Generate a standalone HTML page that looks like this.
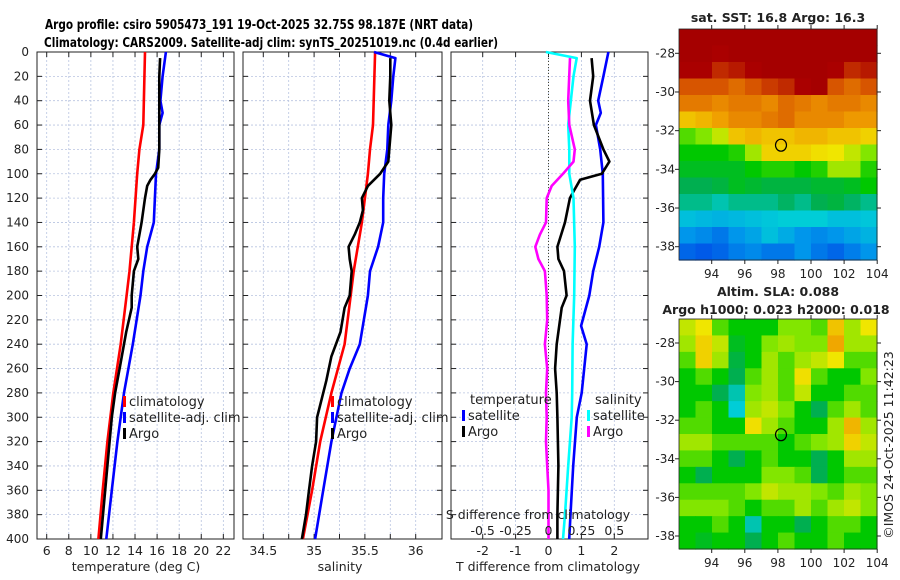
<!DOCTYPE html>
<html><head><meta charset="utf-8"><style>
body{margin:0;background:#fff}
svg{display:block;font-family:"DejaVu Sans","Liberation Sans",sans-serif}
</style></head><body>
<svg id="fig" width="900" height="580" viewBox="0 0 900 580" xmlns="http://www.w3.org/2000/svg">
<rect width="900" height="580" fill="#fff"/>
<text x="45" y="29" font-size="13.5" font-weight="bold" textLength="428" lengthAdjust="spacingAndGlyphs">Argo profile: csiro 5905473_191 19-Oct-2025 32.75S 98.187E (NRT data)</text>
<text x="44" y="47" font-size="13.5" font-weight="bold" textLength="454" lengthAdjust="spacingAndGlyphs">Climatology: CARS2009. Satellite-adj clim: synTS_20251019.nc (0.4d earlier)</text>
<g id="g"></g>
</svg>
<script>
// ---------- data ----------
const depthTicks=[0,20,40,60,80,100,120,140,160,180,200,220,240,260,280,300,320,340,360,380,400];
const tempTicks=[6,8,10,12,14,16,18,20,22];
const salTicks=[34.5,35,35.5,36];
const salGrid=[34.5,34.75,35,35.25,35.5,35.75,36];
const tdiffTicks=[-2,-1,0,1,2];
const sdiffTickLabels=["-0.5","-0.25","0","0.25","0.5"];
const sdiffTicks=[-0.5,-0.25,0,0.25,0.5];

const climTempDepth=[0,60,80,100,140,180,200,240,280,320,360,400];
const climTemp=[14.9,14.75,14.4,14.2,13.9,13.5,13.24,12.7,12.03,11.5,11.07,10.68];
const satTempDepth=[0,20,40,50,60,80,100,120,140,160,180,200,240,280,320,360,400];
const satTemp=[16.8,16.5,16.3,16.5,16.2,16.2,15.9,15.8,15.7,15.1,14.75,14.5,13.8,13.0,12.4,11.9,11.4];
const argoTempDepth=[5,20,40,60,80,95,100,105,110,120,140,150,160,170,180,200,210,230,260,280,300,320,340,360,380,400];
const argoTemp=[16.27,16.2,16.2,16.2,16.2,16.1,15.8,15.4,15.1,14.9,14.6,14.4,14.2,14.3,13.9,13.7,13.7,13.2,12.6,12.2,11.9,11.7,11.5,11.3,11.1,10.9];

const climSalDepth=[0,60,80,100,120,140,160,180,200,240,280,320,360,400];
const climSal=[35.6,35.58,35.55,35.53,35.5,35.47,35.43,35.39,35.36,35.3,35.17,35.06,34.98,34.89];
const satSalDepth=[0,5,20,40,60,80,100,120,140,160,180,200,240,260,280,320,360,400];
const satSal=[35.59,35.8,35.78,35.76,35.73,35.72,35.69,35.68,35.68,35.63,35.55,35.53,35.45,35.35,35.27,35.17,35.09,35.01];
const argoSalDepth=[5,20,40,60,80,90,100,110,120,130,140,150,160,170,180,200,210,230,250,270,300,320,340,360,380,400];
const argoSal=[35.75,35.75,35.74,35.76,35.74,35.73,35.65,35.53,35.47,35.48,35.45,35.4,35.34,35.35,35.37,35.35,35.3,35.26,35.17,35.12,35.03,35.02,34.98,34.95,34.92,34.88];

const satTdDepth=[0,20,40,50,60,80,100,140,160,180,200,225,240,280,300,340,380,400];
const satTd=[1.82,1.67,1.51,1.59,1.44,1.57,1.65,1.67,1.54,1.36,1.24,0.99,1.16,1.01,0.86,0.75,0.67,0.63];
const argoTdDepth=[5,20,40,60,80,90,100,105,115,120,140,160,170,180,200,210,240,260,280,300,340,380,400];
const argoTd=[1.31,1.36,1.26,1.38,1.67,1.85,1.62,0.96,0.75,0.65,0.5,0.27,0.3,0.47,0.55,0.4,0.25,0.2,0.25,0.27,0.3,0.27,0.27];
const satSdDepth=[0,5,20,60,80,100,120,160,200,240,280,300,340,380,400];
const satSd=[-0.02,0.214,0.19,0.15,0.158,0.158,0.19,0.2,0.195,0.183,0.18,0.176,0.15,0.125,0.11];
const argoSdDepth=[5,40,60,80,90,100,110,120,140,150,160,170,180,200,220,240,260,280,300,320,340,360,400];
const argoSd=[0.163,0.15,0.158,0.2,0.19,0.11,0.024,-0.014,-0.019,-0.065,-0.1,-0.077,-0.027,-0.014,-0.01,-0.027,-0.01,-0.019,-0.014,-0.019,-0.01,0,0];

const mapLonTicks=[94,96,98,100,102,104];
const mapLatTicks=[-28,-30,-32,-34,-36,-38];
const argoLon=98.187, argoLat=-32.75;
const sstGrid=[
[1,1,1,1,1,1,1,1,1,1,1,1],
[1,1,.95,1,1,1,1,1,1,1,1,1],
[.95,.95,.9,.92,.95,1,1,1,1,.95,.9,.92],
[.85,.85,.85,.82,.85,.88,.9,.95,1,.85,.82,.85],
[.8,.8,.78,.8,.8,.78,.82,.8,.78,.8,.8,.78],
[.7,.72,.75,.78,.78,.8,.82,.78,.78,.78,.76,.76],
[.55,.58,.62,.7,.72,.7,.7,.72,.72,.7,.7,.68],
[.5,.5,.5,.52,.6,.68,.68,.68,.66,.65,.62,.58],
[.48,.48,.48,.48,.5,.52,.52,.5,.52,.6,.6,.52],
[.45,.45,.46,.48,.47,.46,.46,.46,.47,.47,.48,.5],
[.42,.42,.4,.42,.42,.42,.44,.42,.45,.46,.44,.42],
[.36,.35,.34,.35,.36,.37,.38,.38,.38,.36,.36,.37],
[.3,.28,.25,.3,.32,.36,.33,.3,.28,.3,.32,.34],
[.22,.2,.22,.26,.28,.25,.25,.3,.25,.22,.26,.3]];
const slaGrid=[
[.62,.65,.55,.5,.5,.5,.58,.58,.55,.7,.6,.65],
[.6,.68,.62,.48,.5,.58,.6,.58,.58,.74,.6,.6],
[.55,.68,.6,.46,.5,.6,.55,.6,.62,.65,.55,.55],
[.5,.55,.5,.45,.55,.6,.55,.66,.55,.5,.5,.58],
[.5,.5,.45,.4,.58,.6,.55,.62,.5,.5,.55,.55],
[.5,.55,.5,.38,.6,.62,.58,.5,.45,.55,.6,.55],
[.55,.55,.5,.5,.66,.6,.55,.5,.5,.6,.72,.6],
[.6,.6,.55,.55,.55,.55,.5,.55,.58,.6,.68,.62],
[.55,.55,.5,.45,.5,.55,.5,.5,.45,.5,.6,.6],
[.5,.45,.5,.5,.5,.58,.58,.55,.45,.5,.55,.55],
[.55,.55,.55,.55,.58,.62,.6,.6,.58,.55,.6,.58],
[.58,.58,.58,.55,.5,.55,.55,.6,.55,.6,.62,.58],
[.5,.5,.55,.5,.4,.5,.5,.45,.5,.55,.55,.5],
[.5,.48,.5,.5,.45,.5,.55,.5,.5,.55,.5,.5]];

// ---------- helpers ----------
const NS="http://www.w3.org/2000/svg";
const G=document.getElementById('g');
function mk(tag,attrs,parent){const e=document.createElementNS(NS,tag);for(const k in attrs)e.setAttribute(k,attrs[k]);(parent||G).appendChild(e);return e;}
function txt(x,y,s,size,anchor,parent){const t=mk('text',{x:x,y:y,'font-size':size,'text-anchor':anchor||'middle',fill:'#222'},parent);t.textContent=s;return t;}
const Y0=52,Y1=539;
const yD=d=>Y0+(d/400)*(Y1-Y0);
const xT=t=>46.7+(t-6)*11.04;
const xS=s=>263.3+(s-34.5)*101.6;
const xTd=v=>548.5+v*32.9;
const xSd=v=>548.5+v*131.6;

function panel(name,x0,x1,xs,grid){
  const p=mk('g',{});
  
  
  grid.forEach(v=>mk('line',{x1:xs(v),x2:xs(v),y1:Y0,y2:Y1,stroke:'#b8c4e0','stroke-width':0.8,'stroke-dasharray':'2,2'},p));
  depthTicks.forEach(d=>{
    mk('line',{x1:x0,x2:x1,y1:yD(d),y2:yD(d),stroke:'#b8c4e0','stroke-width':0.8,'stroke-dasharray':'2,2'},p);
    mk('line',{x1:x0,x2:x0+5,y1:yD(d),y2:yD(d),stroke:'#222'},p);
    mk('line',{x1:x1-5,x2:x1,y1:yD(d),y2:yD(d),stroke:'#222'},p);
  });
  grid.forEach(v=>{mk('line',{x1:xs(v),x2:xs(v),y1:Y0,y2:Y0+5,stroke:'#222'},p);mk('line',{x1:xs(v),x2:xs(v),y1:Y1-5,y2:Y1,stroke:'#222'},p);});
  mk('rect',{x:x0,y:Y0,width:x1-x0,height:Y1-Y0,fill:'none',stroke:'#222','stroke-width':1},p);
  return p;
}
function line(p,name,xs,vals,depths,color){
  const pts=vals.map((v,i)=>xs(v).toFixed(1)+','+yD(depths[i]).toFixed(1)).join(' ');
  const l=mk('polyline',{points:pts,fill:'none',stroke:color,'stroke-width':2.6,'stroke-linejoin':'round'},p);
  
  
}
function legend(p,x,y,entries){
  entries.forEach((e,i)=>{
    const g=mk('g',{},p);
    
    
    mk('rect',{x:x,y:y+i*16-10,width:3,height:11,fill:e[1]},g);
    txt(x+6,y+i*16,e[0],13,'start',g);
  });
}

// Panel 1 temperature
const p1=panel('temperature-panel',37,234,xT,tempTicks);
depthTicks.forEach(d=>txt(29,yD(d)+4,String(d),12,'end'));
tempTicks.forEach(t=>txt(xT(t),555,String(t),12.5));
txt(136,571,'temperature (deg C)',12.5);
line(p1,'temp-climatology-line',xT,climTemp,climTempDepth,'#f00');
line(p1,'temp-satellite-line',xT,satTemp,satTempDepth,'#00f');
line(p1,'temp-argo-line',xT,argoTemp,argoTempDepth,'#000');
legend(p1,123,406,[['climatology','#f00'],['satellite-adj. clim','#00f'],['Argo','#000']]);

// Panel 2 salinity
const p2=panel('salinity-panel',243,442,xS,salGrid);
salTicks.forEach(s=>txt(xS(s),555,String(s),12.5));
txt(340,571,'salinity',12.5);
line(p2,'sal-climatology-line',xS,climSal,climSalDepth,'#f00');
line(p2,'sal-satellite-line',xS,satSal,satSalDepth,'#00f');
line(p2,'sal-argo-line',xS,argoSal,argoSalDepth,'#000');
legend(p2,331,406,[['climatology','#f00'],['satellite-adj. clim','#00f'],['Argo','#000']]);

// Panel 3 differences
const p3=panel('difference-panel',451,648,xTd,tdiffTicks);
mk('line',{x1:xTd(0),x2:xTd(0),y1:Y0,y2:Y1,stroke:'#443',"stroke-width":1,'stroke-dasharray':'1,2'},p3);
tdiffTicks.forEach(t=>txt(xTd(t),555,String(t),12.5));
txt(548,571,'T difference from climatology',12.5);
line(p3,'tdiff-satellite-line',xTd,satTd,satTdDepth,'#00f');
line(p3,'tdiff-argo-line',xTd,argoTd,argoTdDepth,'#000');
line(p3,'sdiff-satellite-line',xSd,satSd,satSdDepth,'#0ff');
line(p3,'sdiff-argo-line',xSd,argoSd,argoSdDepth,'#f0f');
txt(538,519,'S difference from climatology',12.5);
sdiffTicks.forEach((s,i)=>txt(xSd(s),535,sdiffTickLabels[i],12.5));
txt(470,404,'temperature',13,'start',p3);
txt(595,404,'salinity',13,'start',p3);
legend(p3,462,420,[['satellite','#00f'],['Argo','#000']]);
legend(p3,587,420,[['satellite','#0ff'],['Argo','#f0f']]);

// colormap
const stops=[[0,[0,0,150]],[0.15,[0,60,230]],[0.3,[0,150,235]],[0.38,[0,205,215]],[0.45,[0,175,80]],[0.5,[0,200,0]],[0.58,[130,230,0]],[0.65,[240,230,0]],[0.75,[240,160,0]],[0.85,[215,85,0]],[0.95,[170,0,0]],[1,[165,0,0]]];
function cmap(v){for(let i=1;i<stops.length;i++){if(v<=stops[i][0]){const a=stops[i-1],b=stops[i],f=(v-a[0])/(b[0]-a[0]);return 'rgb('+a[1].map((c,k)=>Math.round(c+(b[1][k]-c)*f)).join(',')+')';}}return 'rgb(165,0,0)';}

function map(name,grid,top,bottom,lat28,lat38){
  const m=mk('g',{});
  
  
  const L=679,R=877;
  const xL=lon=>711.7+(lon-94)*16.55;
  const yL=lat=>lat28+(-28-lat)*(lat38-lat28)/10;
  const rows=grid.length,cols=grid[0].length,cw=(R-L)/cols,ch=(bottom-top)/rows;
  grid.forEach((row,r)=>row.forEach((v,c)=>{
    const cell=mk('rect',{x:(L+c*cw).toFixed(2),y:(top+r*ch).toFixed(2),width:(cw+0.6).toFixed(2),height:(ch+0.6).toFixed(2),fill:cmap(v)},m);
    
    
  }));
  mk('rect',{x:L,y:top,width:R-L,height:bottom-top,fill:'none',stroke:'#222','stroke-width':0.8},m);
  mapLatTicks.forEach(la=>{txt(675,yL(la)+4,String(la),12,'end',m);mk('line',{x1:L-4,x2:L,y1:yL(la),y2:yL(la),stroke:'#222'},m);mk('line',{x1:R,x2:R+4,y1:yL(la),y2:yL(la),stroke:'#222'},m);});
  mapLonTicks.forEach(lo=>{txt(xL(lo),bottom+18,String(lo),12,'middle',m);mk('line',{x1:xL(lo),x2:xL(lo),y1:bottom,y2:bottom+4,stroke:'#222'},m);mk('line',{x1:xL(lo),x2:xL(lo),y1:top-4,y2:top,stroke:'#222'},m);});
  const c=mk('ellipse',{cx:xL(argoLon),cy:yL(argoLat),rx:5.5,ry:6,fill:'none',stroke:'#000','stroke-width':1.2},m);
  
  
}
map('sst-map',sstGrid,29,260,53.3,246.7);
map('sla-map',slaGrid,319,549,343,536);
const t1=txt(778,22,'sat. SST: 16.8 Argo: 16.3',12.5);t1.setAttribute('font-weight','bold');


const t2=txt(778,296,'Altim. SLA: 0.088',12.5);t2.setAttribute('font-weight','bold');


const t3=txt(776,314,'Argo h1000: 0.023 h2000: 0.018',12.5);t3.setAttribute('font-weight','bold');


const cp=txt(0,0,'©IMOS 24-Oct-2025 11:42:23',12.5,'middle');
cp.setAttribute('transform','translate(893,445) rotate(-90)');


</script>
</body></html>
